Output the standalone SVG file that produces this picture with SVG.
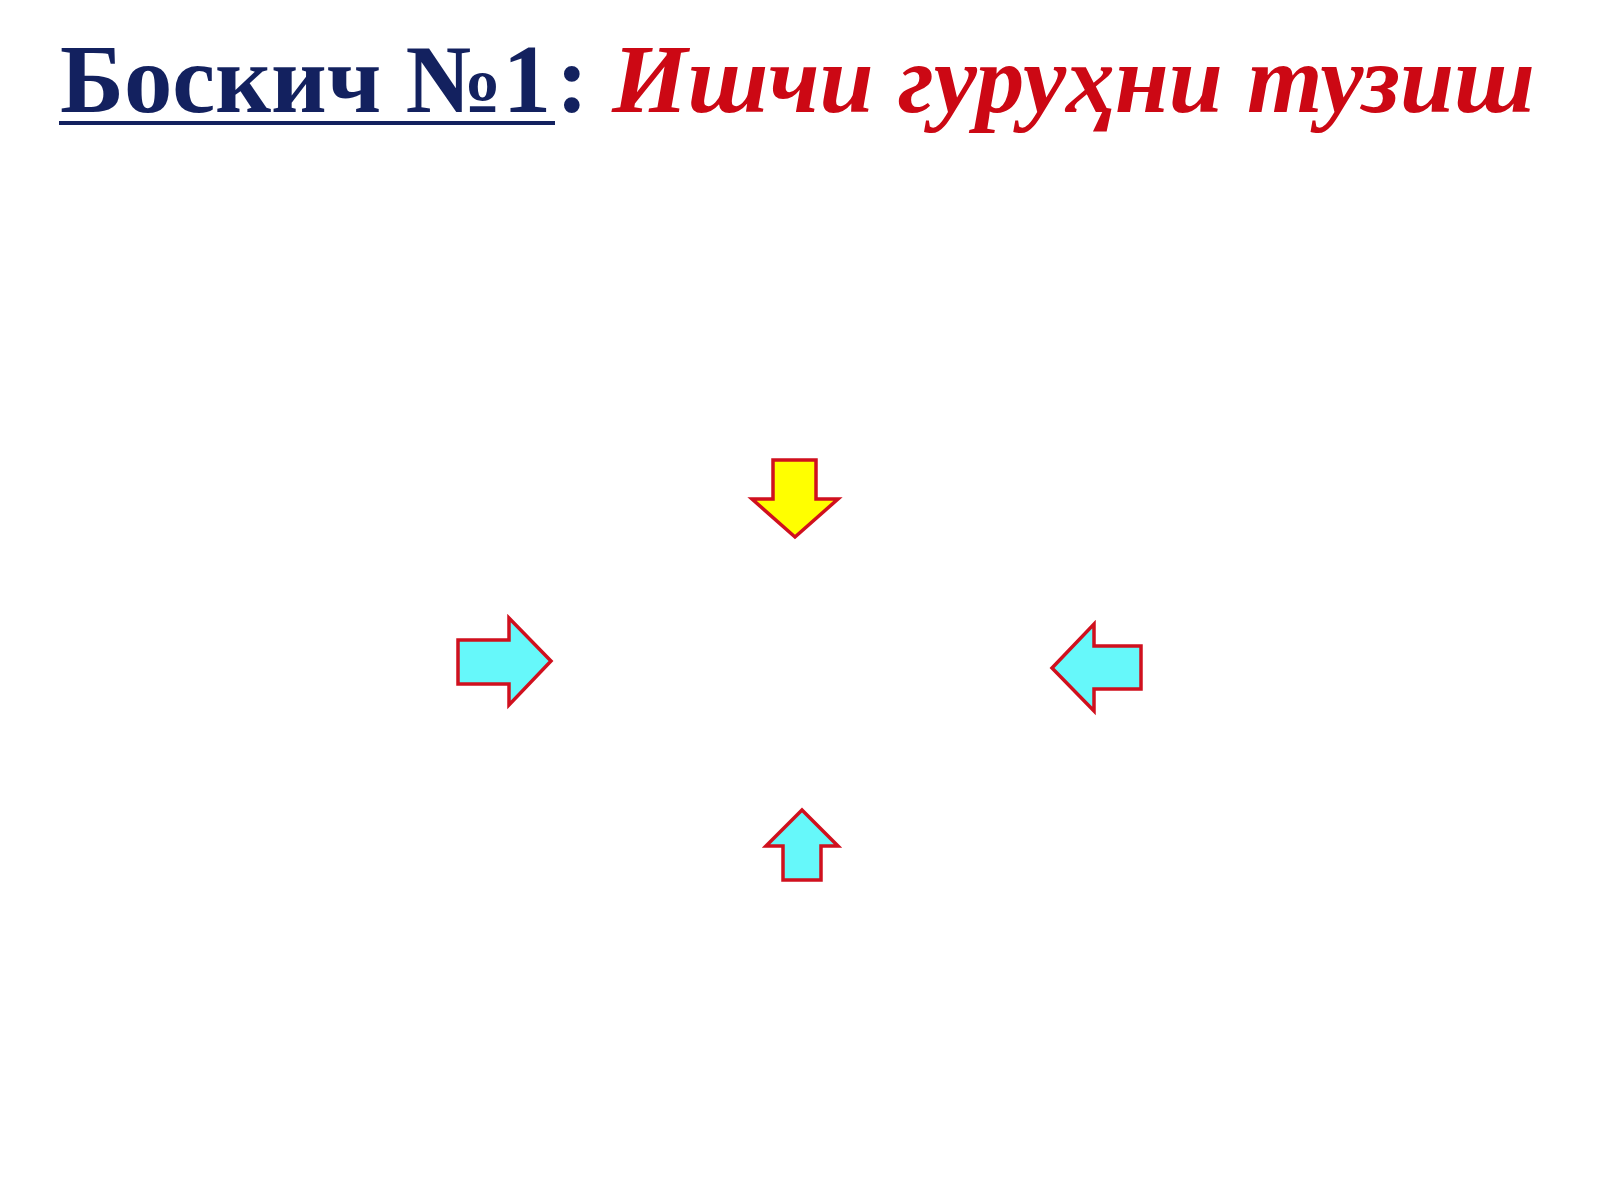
<svg xmlns="http://www.w3.org/2000/svg" width="1600" height="1200" viewBox="0 0 1600 1200">
<style>
.t{font-family:"Liberation Serif","Times New Roman",serif;font-weight:bold;font-size:97px}
.navy{fill:#13215f}
.red{fill:#cc0814;font-style:italic}
.arr{stroke:#d0101e;stroke-width:3.5;stroke-linejoin:miter}
.cyan{fill:#66f8fa}
.yel{fill:#ffff00}
</style>
<rect x="0" y="0" width="1600" height="1200" fill="#ffffff"/>
<g id="title">
<text class="t navy" x="60" y="112" textLength="491" lengthAdjust="spacingAndGlyphs">Боскич №1</text>
<rect class="navy" x="59" y="121" width="496" height="4"/>
<text class="t navy" x="556" y="112">:</text>
<text class="t red" x="612" y="112" textLength="923" lengthAdjust="spacingAndGlyphs">Ишчи гуруҳни тузиш</text>
</g>
<g id="arrows">
<g id="arrow-down"><polygon class="arr yel" points="773,460 816,460 816,499 838,499 795,537 752,499 773,499"/></g>
<g id="arrow-right"><polygon class="arr cyan" points="458,640 509,640 509,618 551,661 509,705 509,684 458,684"/></g>
<g id="arrow-left"><polygon class="arr cyan" points="1141,646 1094,646 1094,624 1052,668 1094,711 1094,689 1141,689"/></g>
<g id="arrow-up"><polygon class="arr cyan" points="783,880 821,880 821,846 838,846 802,810 766,846 783,846"/></g>
</g>
</svg>
